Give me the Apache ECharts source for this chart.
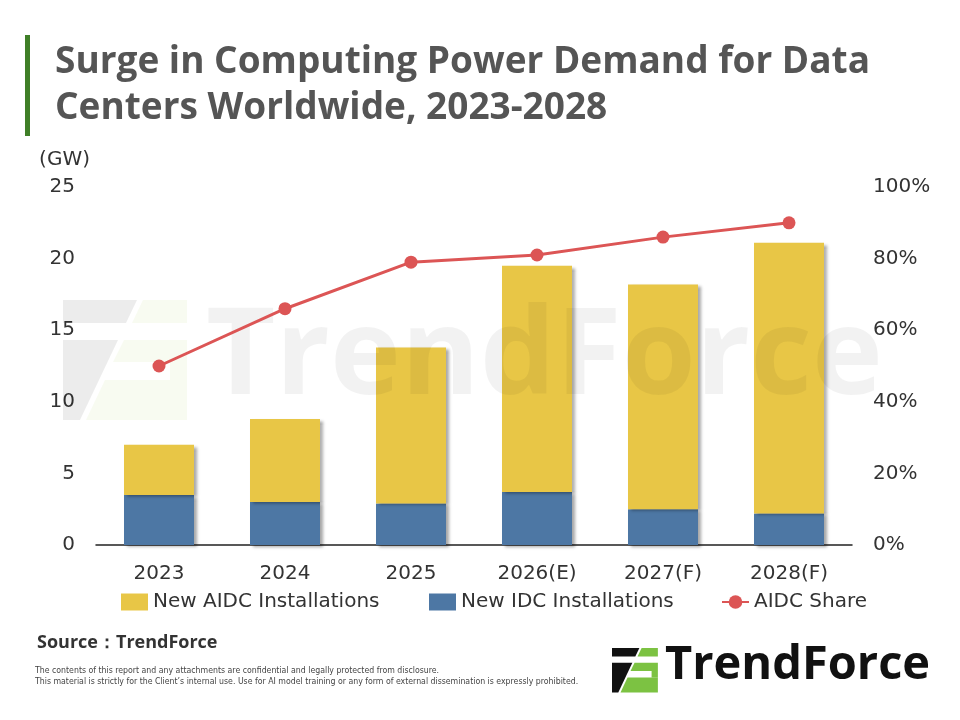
<!DOCTYPE html>
<html>
<head>
<meta charset="utf-8">
<script src="https://cdn.jsdelivr.net/npm/echarts@6/dist/echarts.min.js"></script>
<style>
  html, body { margin: 0; padding: 0; background: #fff; }
  #chart { width: 960px; height: 720px; }
</style>
</head>
<body>
<div id="chart"></div>
<script>
// data
const years = ['2023', '2024', '2025', '2026(E)', '2027(F)', '2028(F)']
const idcGW = [3.5, 3.0, 2.9, 3.7, 2.5, 2.2]
const aidcGW = [3.5, 5.8, 10.9, 15.8, 15.7, 18.9]
const aidcShare = [50, 66, 79, 81, 86, 90]
const gwTicks = [0, 5, 10, 15, 20, 25]
const shareTicks = [0, 20, 40, 60, 80, 100]

const font = "'Open Sans', 'DejaVu Sans', sans-serif"
const labelFont = "'DejaVu Sans', sans-serif"

// logo mark (unit box 124 x 120), pieces split into dark and green parts
const markDark = [
  [[0, 0], [74, 0], [63, 23], [0, 23]],
  [[0, 40], [55, 40], [17, 120], [0, 120]]
]
const markGreen = [
  [[80, 0], [124, 0], [124, 23], [69, 23]],
  [[61, 40], [124, 40], [124, 62], [50, 62]],
  [[107, 62], [124, 62], [124, 80], [107, 80]],
  [[42, 80], [124, 80], [124, 120], [23, 120]]
]

function mark(x0, y0, s, dark, green, z) {
  const out = []
  markDark.forEach(p => out.push({
    type: 'polygon', z: z,
    shape: { points: p.map(q => [x0 + q[0] * s, y0 + q[1] * s]) },
    style: { fill: dark }
  }))
  markGreen.forEach(p => out.push({
    type: 'polygon', z: z,
    shape: { points: p.map(q => [x0 + q[0] * s, y0 + q[1] * s]) },
    style: { fill: green }
  }))
  return out
}

function legendAt(x, name, icon) {
  return {
    left: x,
    top: 587,
    itemWidth: 27,
    itemHeight: 17,
    textStyle: { fontFamily: labelFont, fontSize: 20, color: '#333' },
    data: [icon ? { name: name, icon: icon } : { name: name }]
  }
}

const chart = echarts.init(document.getElementById('chart'))

chart.setOption({
  backgroundColor: '#fff',
  animation: false,
  title: {
    text: 'Surge in Computing Power Demand for Data\nCenters Worldwide, 2023-2028',
    left: 50,
    top: 34,
    textStyle: {
      fontFamily: font,
      fontSize: 37,
      fontWeight: 'bold',
      color: '#555',
      lineHeight: 46
    }
  },
  legend: [
    legendAt(116, 'New AIDC Installations', 'rect'),
    legendAt(424, 'New IDC Installations', 'rect'),
    legendAt(716, 'AIDC Share')
  ],
  grid: { left: 96, right: 108, top: 187, bottom: 175 },
  xAxis: {
    type: 'category',
    data: years,
    axisLine: { lineStyle: { color: '#222', width: 1.5 } },
    axisTick: { show: false },
    axisLabel: { fontFamily: labelFont, fontSize: 20, color: '#333', margin: 19 }
  },
  yAxis: [
    {
      type: 'value',
      min: gwTicks[0],
      max: gwTicks[gwTicks.length - 1],
      interval: gwTicks[1] - gwTicks[0],
      name: '(GW)',
      nameLocation: 'end',
      nameGap: 17,
      nameTextStyle: { fontFamily: labelFont, fontSize: 20, color: '#333', align: 'right', padding: [0, 6, 0, 0] },
      splitLine: { show: false },
      axisLine: { show: false },
      axisTick: { show: false },
      axisLabel: { fontFamily: labelFont, fontSize: 20, color: '#333', margin: 21 }
    },
    {
      type: 'value',
      min: shareTicks[0],
      max: shareTicks[shareTicks.length - 1],
      interval: shareTicks[1] - shareTicks[0],
      splitLine: { show: false },
      axisLine: { show: false },
      axisTick: { show: false },
      axisLabel: { fontFamily: labelFont, fontSize: 20, color: '#333', margin: 21, formatter: '{value}%' }
    }
  ],
  series: [
    {
      name: 'New IDC Installations',
      type: 'bar',
      stack: 'gw',
      barWidth: 70,
      data: idcGW,
      itemStyle: {
        color: '#4d77a4',
        shadowColor: 'rgba(0,0,0,0.35)',
        shadowBlur: 3,
        shadowOffsetX: 3,
        shadowOffsetY: 2
      }
    },
    {
      name: 'New AIDC Installations',
      type: 'bar',
      stack: 'gw',
      barWidth: 70,
      data: aidcGW,
      itemStyle: {
        color: '#e8c646',
        shadowColor: 'rgba(0,0,0,0.35)',
        shadowBlur: 3,
        shadowOffsetX: 3,
        shadowOffsetY: 2
      }
    },
    {
      name: 'AIDC Share',
      type: 'line',
      yAxisIndex: 1,
      z: 5,
      data: aidcShare,
      symbol: 'circle',
      symbolSize: 13,
      lineStyle: { color: '#dc5555', width: 3 },
      itemStyle: { color: '#dc5555' }
    }
  ],
  graphic: [
    // green accent bar next to the title
    { type: 'rect', shape: { x: 25, y: 35, width: 5, height: 101 }, style: { fill: '#3f7f27' } },
    // watermark
    ...mark(63, 300, 1, 'rgba(0,0,0,0.075)', 'rgba(150,200,60,0.07)', 3),
    {
      type: 'text', z: 3, left: 206, top: 300,
      style: { text: 'TrendForce', font: 'bold 120px ' + font, fill: 'rgba(0,0,0,0.05)' }
    },
    // footer
    {
      type: 'text', left: 37, top: 634,
      style: { text: 'Source：TrendForce', font: 'bold 18px ' + font, fill: '#333' }
    },
    {
      type: 'text', left: 35, top: 665,
      style: {
        text: 'The contents of this report and any attachments are confidential and legally protected from disclosure.\nThis material is strictly for the Client\u2019s internal use. Use for AI model training or any form of external dissemination is expressly prohibited.',
        font: '8.7px "DejaVu Sans Condensed", "Liberation Sans Narrow", sans-serif',
        fill: '#444',
        lineHeight: 11
      }
    },
    ...mark(612, 648, 0.37, '#111', '#7cc242', 1),
    {
      type: 'text', left: 665, top: 642,
      style: { text: 'TrendForce', font: 'bold 47px ' + font, fill: '#111' }
    }
  ]
})
</script>
</body>
</html>
